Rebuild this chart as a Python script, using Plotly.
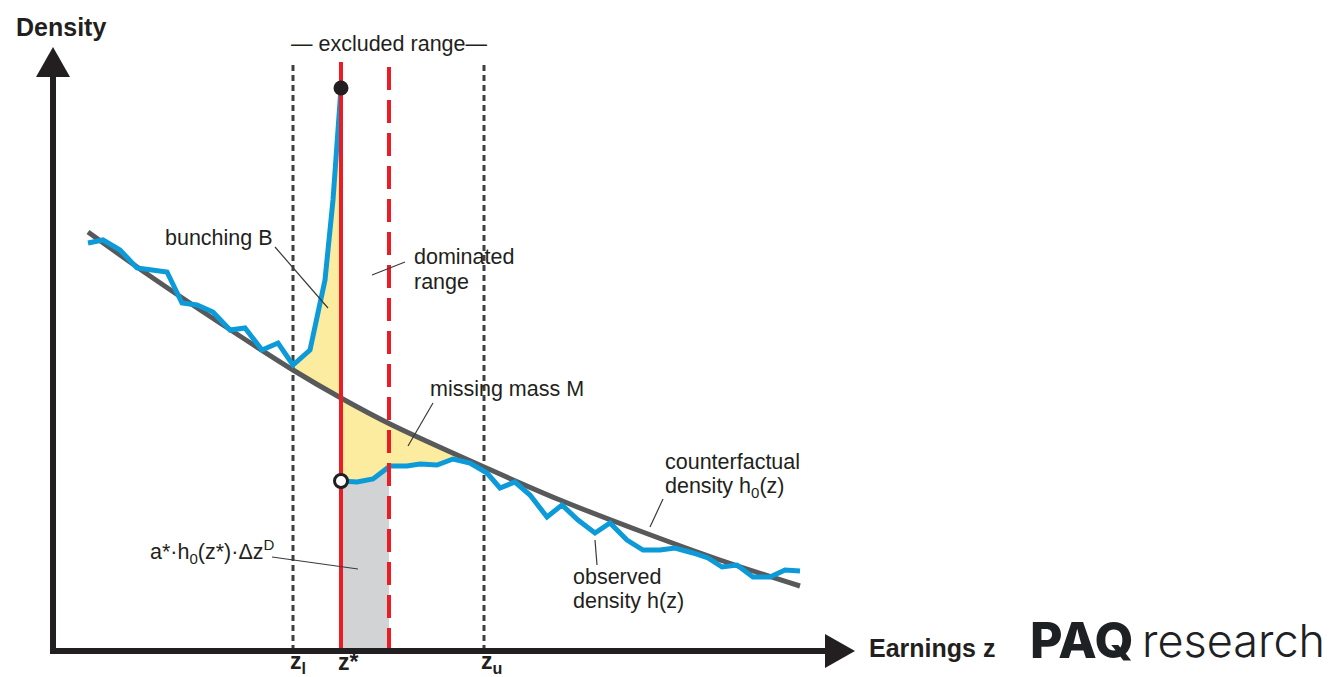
import numpy as np
import plotly.graph_objects as go

# Earnings (x) and density (y) in chart units; the origin is where the axes meet.
Z_L, Z_STAR, Z_D, Z_U = 240, 288, 336, 431
Z_TICK_LABELS = ["z<sub>l</sub>", "z*", "z<sub>u</sub>"]
TOP = 589  # height of the vertical reference lines

# Counterfactual density h0(z)
cf_x = [35, 97, 167, 240, 288, 337, 431, 507, 587, 667, 747]
cf_y = [419, 375, 328, 281, 253, 227, 184, 151, 120, 91, 65]

# Observed density h(z) below the threshold, ending in the bunching spike
obs_lo_x = [35, 50, 67, 84, 99, 114, 129, 144, 160, 177, 192, 209, 225, 240, 257, 272, 280, 288]
obs_lo_y = [408, 411, 401, 383, 381, 379, 348, 346, 339, 321, 323, 301, 308, 286, 301, 371, 451, 563]

# Observed density h(z) above the threshold
obs_hi_x = [288, 304, 320, 337, 354, 367, 384, 400, 417, 434, 447, 462, 477, 494, 509,
            525, 542, 557, 574, 590, 607, 622, 640, 655, 669, 684, 700, 717, 732, 747]
obs_hi_y = [170, 169, 172, 185, 185, 187, 186, 192, 188, 178, 163, 169, 156, 134, 146,
            131, 118, 128, 111, 101, 101, 103, 98, 93, 84, 86, 74, 74, 81, 80]

INK = "#231f20"
BLUE = "#0c9ad8"
CURVE = "#58595b"
RED = "#ed1c24"
YELLOW = "#fcec9f"
SHADE = "#d1d3d4"
FONT = "Liberation Sans, Arial, sans-serif"


def clip(xs, ys, a, b):
    """Part of a series between a and b, with interpolated end points."""
    xs = np.asarray(xs, float)
    ys = np.asarray(ys, float)
    inner = (xs > a) & (xs < b)
    x = np.concatenate([[a], xs[inner], [b]])
    return x, np.interp(x, xs, ys)


fig = go.Figure()


def poly(x, y, color):
    fig.add_trace(go.Scatter(x=list(x), y=list(y), mode="lines", fill="toself",
                             fillcolor=color, line=dict(width=0), hoverinfo="skip"))


def line(x, y, color, width, dash="solid", shape="linear"):
    fig.add_trace(go.Scatter(x=list(x), y=list(y), mode="lines", hoverinfo="skip",
                             line=dict(color=color, width=width, dash=dash, shape=shape)))


# a*·h0(z*)·Δz^D : area under h(z) across the dominated range
bx, by = clip(obs_hi_x, obs_hi_y, Z_STAR, Z_D)
poly(np.r_[Z_STAR, bx, Z_D], np.r_[0, by, 0], SHADE)

# bunching B : excess of h(z) over h0(z) from z_l to z*
bx, by = clip(obs_lo_x, obs_lo_y, Z_L, Z_STAR)
cx, cy = clip(cf_x, cf_y, Z_L, Z_STAR)
poly(np.r_[bx, cx[::-1]], np.r_[by, cy[::-1]], YELLOW)

# missing mass M : shortfall of h(z) below h0(z) from z* to z_u
bx, by = clip(obs_hi_x, obs_hi_y, Z_STAR, Z_U)
cx, cy = clip(cf_x, cf_y, Z_STAR, Z_U)
poly(np.r_[cx, bx[::-1]], np.r_[cy, by[::-1]], YELLOW)

# excluded range bounds
for z in (Z_L, Z_U):
    line([z, z], [0, TOP], "#404041", 3, dash="6px,4px")

# densities
line(cf_x, cf_y, CURVE, 5, shape="spline")
line(obs_lo_x, obs_lo_y, BLUE, 5)
line(obs_hi_x, obs_hi_y, BLUE, 5)

# threshold and top of the dominated range
line([Z_STAR, Z_STAR], [0, TOP], RED, 4)
line([Z_D, Z_D], [0, TOP], RED, 4, dash="23px,10px")

# end points of h(z) at the threshold
fig.add_trace(go.Scatter(x=[obs_lo_x[-1]], y=[obs_lo_y[-1]], mode="markers", hoverinfo="skip",
                         marker=dict(size=15, color=INK, line=dict(width=0))))
fig.add_trace(go.Scatter(x=[obs_hi_x[0]], y=[obs_hi_y[0]], mode="markers", hoverinfo="skip",
                         marker=dict(size=13, color="white", line=dict(width=3, color=INK))))

# axes with arrow heads
poly([-3, 3, 3, -3], [-3, -3, 575, 575], INK)
poly([-3, 773, 773, -3], [-3, -3, 3, 3], INK)
poly([-17, 17, 0], [574, 574, 604], INK)
poly([772, 772, 802], [17, -17, 0], INK)

# leader lines from the labels
leaders = [
    ((222, 404), (275, 343)),
    ((319, 376), (352, 389)),
    ((380, 248), (355, 205)),
    ((610, 152), (597, 124)),
    ((542, 111), (544, 86)),
    ((219, 94), (305, 82)),
]
for (x0, y0), (x1, y1) in leaders:
    line([x0, x1], [y0, y1], "#3a3a3a", 1.2)


def label(x, y, text, size=21.5, bold=False, xanchor="left", family=FONT, weight=None, color=INK):
    f = dict(family=family, size=size, color=color)
    if weight is not None:
        f["weight"] = weight
    fig.add_annotation(x=x, y=y, text=f"<b>{text}</b>" if bold else text, showarrow=False,
                       xanchor=xanchor, yanchor="middle", font=f)


label(336, 607, "— excluded range—", xanchor="center")
label(110, 413, "bunching B")
label(359, 394, "dominated")
label(359, 369, "range")
label(375, 262, "missing mass M")
label(610, 189, "counterfactual")
label(610, 164, "density h<sub>0</sub>(z)")
label(518, 74, "observed")
label(518, 50, "density h(z)")
label(95, 100, "a*·h<sub>0</sub>(z*)·Δz<sup>D</sup>")

label(-39, 624, "Density", size=25, bold=True)
label(814, 3, "Earnings z", size=25, bold=True)
for z, t in zip((Z_L, Z_STAR, Z_U), Z_TICK_LABELS):
    label(z - 5, -11, t, size=23, bold=True)

label(1083, 11, "PAQ", size=50, xanchor="right", family="Inter, Lato, sans-serif", weight=800, color="#1e2124")
label(1087, 11, "research", size=45, family="Inter, Lato, sans-serif", weight=300, color="#1e2124")

fig.update_layout(
    width=1329, height=677, autosize=False,
    margin=dict(l=0, r=0, t=0, b=0),
    paper_bgcolor="white", plot_bgcolor="white",
    showlegend=False,
    xaxis=dict(range=[-53, 1276], visible=False, fixedrange=True),
    yaxis=dict(range=[-26, 651], visible=False, fixedrange=True),
)

fig.write_html("out.html")
